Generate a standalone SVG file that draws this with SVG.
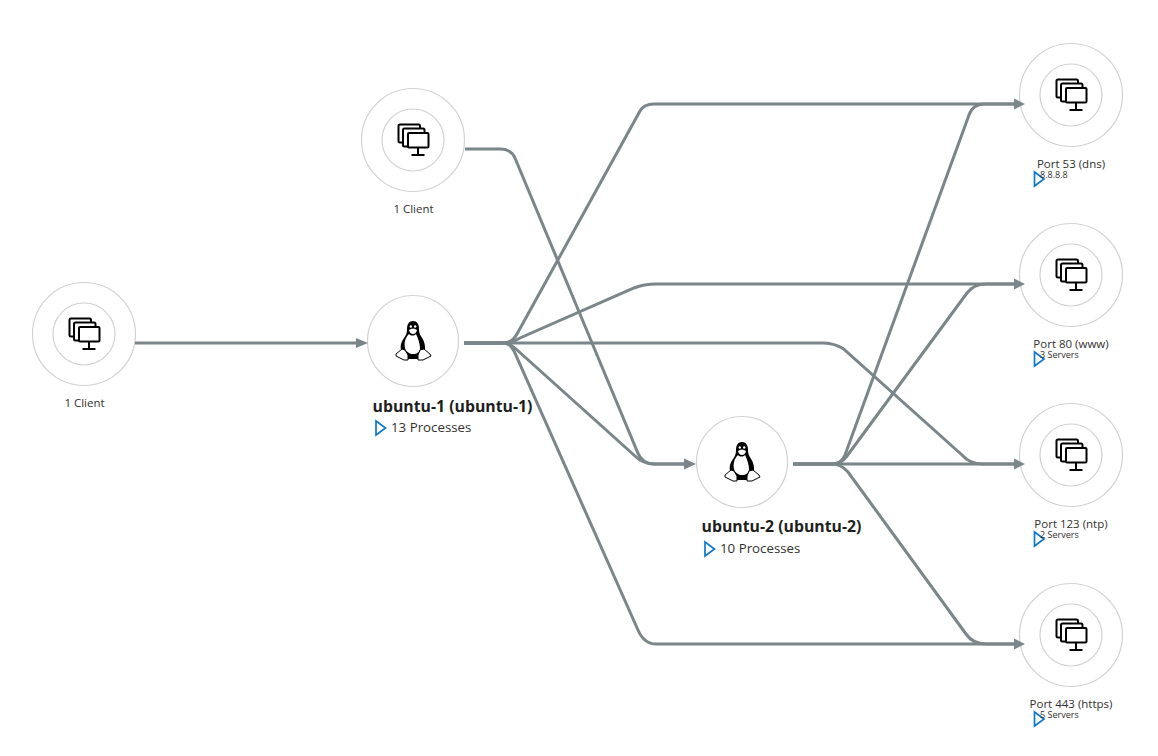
<svg xmlns="http://www.w3.org/2000/svg" width="1158" height="756" viewBox="0 0 1158 756">
<style>
.bg{fill:#fff}
.ring{fill:none;stroke:#d2d2d2;stroke-width:1.2}
.c{fill:none;stroke:#7a8689;stroke-width:3}
.a{fill:#7a8689}
.f{fill:#fff;stroke:#000;stroke-width:2;stroke-linejoin:round}
text{font-family:"Open Sans","Noto Sans",sans-serif;fill:#323130}
.s{font-size:11.5px}
.p{font-size:11.5px}
.t{font-size:9px}
.b{font-size:15.8px;font-weight:700;fill:#201f1e}
.m{font-size:13.300px}
.tri{fill:#fff;stroke:#0f78c8;stroke-width:1.7;stroke-linejoin:miter}
</style>
<defs>
<symbol id="mon" overflow="visible">
<rect class="f" x="-14.500" y="-15.500" width="21.500" height="18" rx="1.500"/>
<rect class="f" x="-10" y="-11.500" width="21.500" height="18" rx="1.500"/>
<rect class="f" x="-5" y="-7" width="20.500" height="14.500" rx="1"/>
<path d="M5 8v7M-1.500 15h13" fill="none" stroke="#000" stroke-width="2"/>
</symbol>
<symbol id="tux" overflow="visible">
<path d="M0-20C-4-20-6-17-6-12C-6-8-7-6-9-3C-12 1-13 5-12 9L-8 16L8 16L12 9C12.500 3 10.500-1 8.500-4C6.500-7 6-9 6-12C6-17 4-20 0-20z" fill="#000"/>
<path d="M-4-7C-8-3-9 2-8 7C-7 11-3 13 0 13C4 13 7 11 7 7C7 3 5-3 3-7C1-5-2-5-4-7z" fill="#fff"/>
<path d="M-4-11q4-3 8 0q-1 4-4 4q-3 0-4-4z" fill="#fff"/>
<circle cx="-2.200" cy="-14.500" r="1.200" fill="#fff"/><circle cx="2.200" cy="-14.500" r="1.200" fill="#fff"/>
<rect x="-6" y="13" width="12" height="5" fill="#000"/>
<path d="M-11 8L-17 13L-17 15L-9 19L-5 19L-5 14L-8 9zM11 8L17 13L18 15L10 19L5 19L5 14L7 9z" fill="#fff" stroke="#000" stroke-width="1" stroke-linejoin="round"/>
</symbol>
<symbol id="tri" overflow="visible"><path class="tri" d="M0-7L9.500 0L0 7z"/></symbol>
</defs>
<rect class="bg" width="1158" height="756"/>
<g id="client-left">
<circle class="ring" cx="84" cy="334" r="51.500"/><circle class="ring" cx="84" cy="334" r="31"/>
<use href="#mon" x="84" y="334"/>
<text class="s" x="84.500" y="407" text-anchor="middle">1 Client</text>
</g>
<g id="client-top">
<circle class="ring" cx="413" cy="140" r="51.500"/><circle class="ring" cx="413" cy="140" r="31"/>
<use href="#mon" x="413" y="140"/>
<text class="s" x="413.500" y="213" text-anchor="middle">1 Client</text>
</g>
<g id="ubuntu-1">
<circle class="ring" cx="413" cy="341" r="45.500"/>
<use href="#tux" x="413" y="341"/>
<text class="b" x="452.500" y="412" text-anchor="middle">ubuntu-1 (ubuntu-1)</text>
<use href="#tri" x="376" y="428"/>
<text class="m" x="391" y="432">13 Processes</text>
</g>
<g id="ubuntu-2">
<circle class="ring" cx="742" cy="462" r="45.500"/>
<use href="#tux" x="742" y="462"/>
<text class="b" x="781.500" y="532" text-anchor="middle">ubuntu-2 (ubuntu-2)</text>
<use href="#tri" x="705" y="549"/>
<text class="m" x="720" y="553">10 Processes</text>
</g>
<g id="port-53">
<circle class="ring" cx="1071" cy="95" r="51.500"/><circle class="ring" cx="1071" cy="95" r="31"/>
<use href="#mon" x="1071" y="95"/>
<text class="p" x="1071" y="168" text-anchor="middle">Port 53 (dns)</text>
<use href="#tri" x="1034.500" y="179"/>
<text class="t" x="1040" y="178">8.8.8.8</text>
</g>
<g id="port-80">
<circle class="ring" cx="1071" cy="275" r="51.500"/><circle class="ring" cx="1071" cy="275" r="31"/>
<use href="#mon" x="1071" y="275"/>
<text class="p" x="1071" y="348" text-anchor="middle">Port 80 (www)</text>
<use href="#tri" x="1034.500" y="359"/>
<text class="t" x="1040" y="358">3 Servers</text>
</g>
<g id="port-123">
<circle class="ring" cx="1071" cy="455" r="51.500"/><circle class="ring" cx="1071" cy="455" r="31"/>
<use href="#mon" x="1071" y="455"/>
<text class="p" x="1071" y="528" text-anchor="middle">Port 123 (ntp)</text>
<use href="#tri" x="1034.500" y="539"/>
<text class="t" x="1040" y="538">2 Servers</text>
</g>
<g id="port-443">
<circle class="ring" cx="1071" cy="635" r="51.500"/><circle class="ring" cx="1071" cy="635" r="31"/>
<use href="#mon" x="1071" y="635"/>
<text class="p" x="1071" y="708" text-anchor="middle">Port 443 (https)</text>
<use href="#tri" x="1034.500" y="719"/>
<text class="t" x="1040" y="718">5 Servers</text>
</g>
<g id="connectors">
<path class="c" d="M135 343H360"/>
<path class="c" d="M465 149H500Q511 149 515 158L637 451Q642 464 654 464H688"/>
<path class="c" d="M464 343H503Q512 343 517 334L640 111Q644 104 654 104H1018"/>
<path class="c" d="M464 343H503Q512 343 520 338L634 288Q644 284 656 284H1018"/>
<path class="c" d="M464 343H822Q834 343 843 348.500L962 455Q970 464 982 464H1018"/>
<path class="c" d="M464 343H503Q510 343 516 349L635 456Q643 464 654 464H688"/>
<path class="c" d="M464 343H503Q510 343 514 351L638 630Q644 644 656 644H1018"/>
<path class="c" d="M793 464H832Q841 464 845 455L969 115Q973 104 984 104H1018"/>
<path class="c" d="M793 464H832Q841 464 847 456L967 293Q974 284 986 284H1018"/>
<path class="c" d="M793 464H1018"/>
<path class="c" d="M793 464H832Q841 464 848 472L966 634Q973 644 986 644H1018"/>
<path class="a" d="M368 343l-12-5v10zM696 464l-12-5.500v11zM1025 104l-11-5.500v11zM1025 284l-11-5.500v11zM1025 464l-11-5.500v11zM1025 644l-11-5.500v11z"/>
</g>
</svg>
